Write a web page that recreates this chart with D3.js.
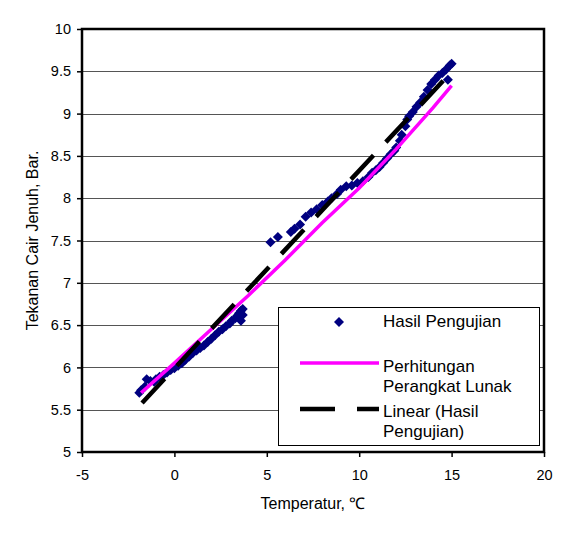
<!DOCTYPE html>
<html>
<head>
<meta charset="utf-8">
<script src="https://cdn.jsdelivr.net/npm/d3@7"></script>
<style>
  body { margin: 0; background: #fff; }
  text { font-family: "Liberation Sans", Arial, sans-serif; fill: #000; }
</style>
</head>
<body>
<div id="chart"></div>
<script>
// -------------------------------------------------------------------------
// Data

// Hasil Pengujian (measured), temperature in C and pressure in bar
const hasilT = [
  -1.9, -1.8, -1.6, -1.5, -1.3, -1.1, -1.0, -0.8, -0.6, -0.4, -0.2, 0.0,
  0.2, 0.4, 0.6, 0.8, 1.0, 1.2, 1.4, 1.6, 1.8, 2.0, 2.2, 2.4, 2.6, 2.8,
  3.0, 3.1, 3.3, 3.4, 3.5, 3.6, 3.7, 3.6, 3.7,
  5.2, 5.6, 6.3, 6.5, 6.8, 7.1, 7.4, 7.7, 8.0, 8.3, 8.5, 8.8, 9.0, 9.3,
  9.6, 9.9, 10.2, 10.5, 10.7, 10.9, 11.1, 11.3, 11.5, 11.7, 11.9, 12.0,
  12.2, 12.3, 12.5, 12.6, 12.7, 12.9, 13.1, 13.3, 13.5, 13.7, 13.9, 14.1,
  14.3, 14.5, 14.7, 14.8, 14.9, 15.0
];
const hasilP = [
  5.70, 5.73, 5.77, 5.86, 5.84, 5.83, 5.86, 5.89, 5.91, 5.94, 5.97, 5.99,
  6.02, 6.05, 6.09, 6.13, 6.17, 6.20, 6.23, 6.26, 6.30, 6.34, 6.38, 6.42, 6.45, 6.49,
  6.52, 6.55, 6.58, 6.61, 6.64, 6.67, 6.69, 6.55, 6.62,
  7.48, 7.54, 7.60, 7.64, 7.69, 7.78, 7.83, 7.87, 7.92, 7.96, 8.00, 8.05, 8.10, 8.14,
  8.15, 8.18, 8.20, 8.25, 8.30, 8.33, 8.37, 8.42, 8.47, 8.52, 8.56, 8.60,
  8.68, 8.75, 8.85, 8.93, 8.97, 9.02, 9.08, 9.13, 9.20, 9.28, 9.35, 9.40,
  9.45, 9.48, 9.52, 9.40, 9.57, 9.59
];

// Perhitungan Perangkat Lunak (software calculation)
const hitungT = [-1.8, 0, 2, 4, 6, 8, 10, 12, 14, 15];
const hitungP = [5.70, 6.05, 6.45, 6.85, 7.27, 7.71, 8.12, 8.58, 9.07, 9.33];

// Linear (Hasil Pengujian) trend line end points
const linearT = [-1.75, 14.85];
const linearP = [5.58, 9.46];

const xTicks = [-5, 0, 5, 10, 15, 20];
const yTicks = [5, 5.5, 6, 6.5, 7, 7.5, 8, 8.5, 9, 9.5, 10];

// -------------------------------------------------------------------------
// Layout

const width = 573;
const height = 534;
const plot = { left: 82, top: 29, right: 544, bottom: 452 };
const navy = '#000080';
const pink = '#FF00FF';

const svg = d3.select('#chart').append('svg')
  .attr('width', width)
  .attr('height', height);

const x = d3.scaleLinear().domain([-5, 20]).range([plot.left, plot.right]);
const y = d3.scaleLinear().domain([5, 10]).range([plot.bottom, plot.top]);

// gridlines
svg.append('g')
  .selectAll('line')
  .data(yTicks.filter(d => d > 5 && d < 10))
  .enter().append('line')
  .attr('x1', plot.left)
  .attr('x2', plot.right)
  .attr('y1', d => Math.round(y(d)) + 0.5)
  .attr('y2', d => Math.round(y(d)) + 0.5)
  .attr('stroke', '#555')
  .attr('stroke-width', 1);

// axes
const xAxis = svg.append('g')
  .attr('transform', `translate(0,${plot.bottom})`)
  .call(d3.axisBottom(x).tickValues(xTicks).tickSize(5).tickPadding(13).tickFormat(d => String(d)));
const yAxis = svg.append('g')
  .attr('transform', `translate(${plot.left},0)`)
  .call(d3.axisLeft(y).tickValues(yTicks).tickSize(5).tickPadding(6).tickFormat(d => String(d)));
[xAxis, yAxis].forEach(ax => {
  ax.select('.domain').remove();
  ax.selectAll('line').attr('stroke', '#000').attr('stroke-width', 1.5);
  ax.selectAll('text').style('font-size', '14.5px').attr('fill', '#000');
});

// clip for the trend line
svg.append('defs').append('clipPath').attr('id', 'plot-clip')
  .append('rect')
  .attr('x', plot.left).attr('y', plot.top)
  .attr('width', plot.right - plot.left).attr('height', plot.bottom - plot.top);

// series: measured points
const diamond = d3.symbol().type(d3.symbolSquare).size(50);
const points = hasilT.map((t, i) => ({ t: t, p: hasilP[i] }));
svg.append('g')
  .selectAll('path')
  .data(points)
  .enter().append('path')
  .attr('d', diamond)
  .attr('transform', d => `translate(${x(d.t)},${y(d.p)}) rotate(45)`)
  .attr('fill', navy);

// software calculation line
const line = d3.line().x(d => x(d.t)).y(d => y(d.p));
svg.append('path')
  .datum(hitungT.map((t, i) => ({ t: t, p: hitungP[i] })))
  .attr('d', line)
  .attr('fill', 'none')
  .attr('stroke', pink)
  .attr('stroke-width', 3.5);

// linear trend line
svg.append('path')
  .datum(linearT.map((t, i) => ({ t: t, p: linearP[i] })))
  .attr('d', line)
  .attr('clip-path', 'url(#plot-clip)')
  .attr('fill', 'none')
  .attr('stroke', '#000')
  .attr('stroke-width', 4.5)
  .attr('stroke-dasharray', '33,18');

// plot border
svg.append('rect')
  .attr('x', plot.left)
  .attr('y', plot.top)
  .attr('width', plot.right - plot.left)
  .attr('height', plot.bottom - plot.top)
  .attr('fill', 'none')
  .attr('stroke', '#000')
  .attr('stroke-width', 2.5);

// axis titles
svg.append('text')
  .attr('x', (plot.left + plot.right) / 2)
  .attr('y', 509)
  .attr('text-anchor', 'middle')
  .style('font-size', '16px')
  .text('Temperatur, \u2103');

svg.append('text')
  .attr('transform', `translate(38,${(plot.top + plot.bottom) / 2}) rotate(-90)`)
  .attr('text-anchor', 'middle')
  .style('font-size', '16px')
  .text('Tekanan Cair Jenuh, Bar.');

// -------------------------------------------------------------------------
// Legend

const legend = svg.append('g');
legend.append('rect')
  .attr('x', 278.5).attr('y', 307.5)
  .attr('width', 261).attr('height', 138)
  .attr('fill', '#fff')
  .attr('stroke', '#000')
  .attr('stroke-width', 1);

legend.append('path')
  .attr('d', diamond)
  .attr('transform', 'translate(339,322) rotate(45)')
  .attr('fill', navy);

legend.append('line')
  .attr('x1', 300).attr('x2', 379)
  .attr('y1', 363).attr('y2', 363)
  .attr('stroke', pink)
  .attr('stroke-width', 3.5);

legend.append('line')
  .attr('x1', 300).attr('x2', 379)
  .attr('y1', 409).attr('y2', 409)
  .attr('stroke', '#000')
  .attr('stroke-width', 4.5)
  .attr('stroke-dasharray', '35,22');

const legendLines = [
  { text: 'Hasil Pengujian', y: 327 },
  { text: 'Perhitungan', y: 372 },
  { text: 'Perangkat Lunak', y: 392 },
  { text: 'Linear (Hasil', y: 417 },
  { text: 'Pengujian)', y: 437 }
];
legend.selectAll('text.item')
  .data(legendLines)
  .enter().append('text')
  .attr('class', 'item')
  .attr('x', 383)
  .attr('y', d => d.y)
  .style('font-size', '17px')
  .text(d => d.text);
</script>
</body>
</html>
